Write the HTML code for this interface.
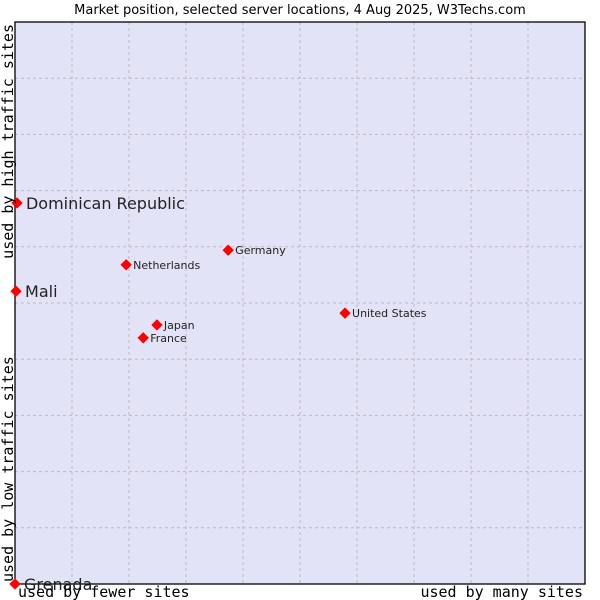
<!DOCTYPE html>
<html><head><meta charset="utf-8"><style>
body{margin:0;background:#fff;width:600px;height:600px;overflow:hidden}
svg{display:block;font-family:"DejaVu Sans","Liberation Sans",sans-serif}
</style></head><body>
<svg id="chart" width="600" height="600">
<text x="300" y="14" text-anchor="middle" font-size="13" fill="#000">Market position, selected server locations, 4 Aug 2025, W3Techs.com</text>
<rect x="15" y="22" width="570" height="562" fill="#e3e3f7"/>
<g id="grid"></g>
<rect x="15" y="22" width="570" height="562" fill="none" stroke="#000" stroke-width="1.3"/>
<g id="marks"></g>
<text x="18" y="597" font-family="'DejaVu Sans Mono','Liberation Mono',monospace" font-size="15">used by fewer sites</text>
<text x="583" y="597" text-anchor="end" font-family="'DejaVu Sans Mono','Liberation Mono',monospace" font-size="15">used by many sites</text>
<text transform="translate(13,582) rotate(-90)" font-family="'DejaVu Sans Mono','Liberation Mono',monospace" font-size="15">used by low traffic sites</text>
<text transform="translate(13,24) rotate(-90)" text-anchor="end" font-family="'DejaVu Sans Mono','Liberation Mono',monospace" font-size="15">used by high traffic sites</text>
</svg>
<script>
const countries = ["Dominican Republic","Mali","Grenada","Netherlands","Germany","Japan","France","United States"];
const xValues = [0.35,0.18,0,19.5,37.4,24.9,22.5,57.9];
const yValues = [67.8,52.1,0,56.8,59.4,46.1,43.8,48.2];
const largeLabel = [true,true,true,false,false,false,false,false];
const NS="http://www.w3.org/2000/svg";
const L=15,T=22,W=570,H=562;
const sx=v=>L+v/100*W, sy=v=>T+H-v/100*H;
const grid=document.getElementById('grid');
for(let i=1;i<10;i++){
  const v=document.createElementNS(NS,'line');
  v.setAttribute('x1',sx(i*10));v.setAttribute('x2',sx(i*10));v.setAttribute('y1',T);v.setAttribute('y2',T+H);
  v.setAttribute('stroke','#bbb');v.setAttribute('stroke-dasharray','3,3');
  
  
  grid.appendChild(v);
  const h=document.createElementNS(NS,'line');
  h.setAttribute('y1',sy(i*10));h.setAttribute('y2',sy(i*10));h.setAttribute('x1',L);h.setAttribute('x2',L+W);
  h.setAttribute('stroke','#bbb');h.setAttribute('stroke-dasharray','3,3');
  
  
  grid.appendChild(h);
}
const marks=document.getElementById('marks');
countries.forEach((c,i)=>{
  const x=sx(xValues[i]),y=sy(yValues[i]);
  const p=document.createElementNS(NS,'path');
  p.setAttribute('d',`M${x-5},${y} L${x},${y-5} L${x+5},${y} L${x},${y+5} Z`);
  p.setAttribute('fill','#f00');
  p.setAttribute('stroke','#f00');
  p.setAttribute('stroke-width','1');
  
  
  marks.appendChild(p);
  const t=document.createElementNS(NS,'text');
  const big=largeLabel[i];
  t.setAttribute('x',x+(big?9:7));
  t.setAttribute('y',y+(big?6:4));
  t.setAttribute('font-size',big?16:11);
  t.setAttribute('fill','#222');
  t.textContent=c;
  
  
  marks.appendChild(t);
});
</script>
</body></html>
